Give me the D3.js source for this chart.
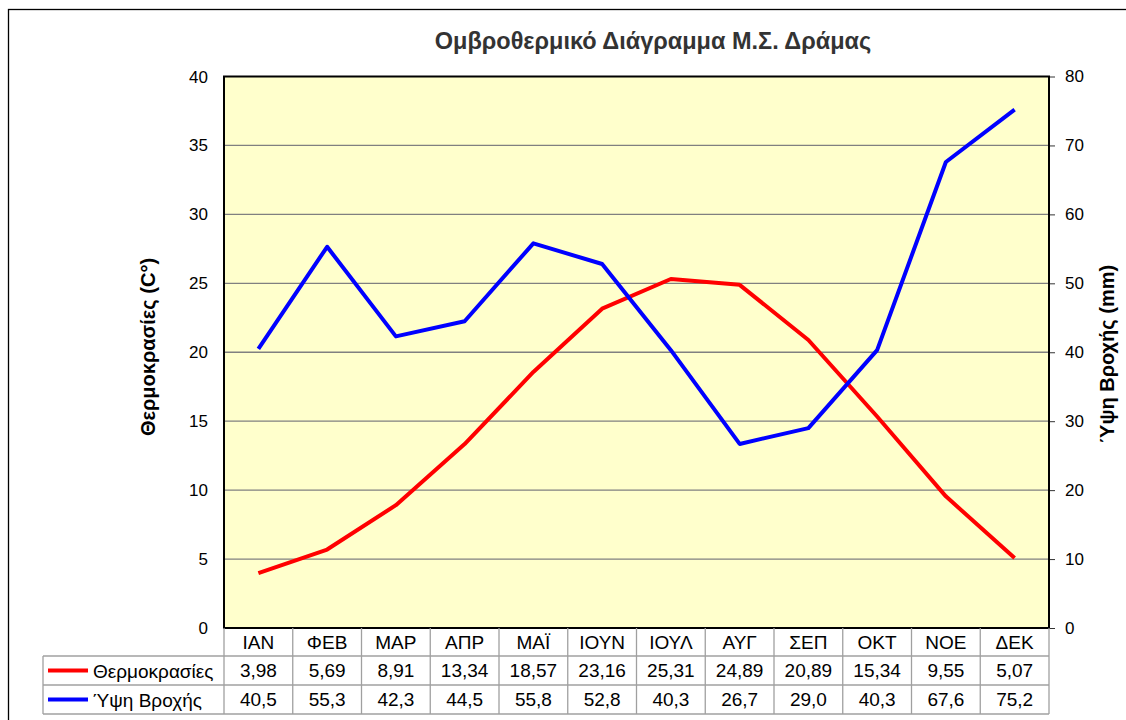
<!DOCTYPE html>
<html><head><meta charset="utf-8">
<script src="https://cdn.jsdelivr.net/npm/d3@7"></script>
<style>body{margin:0;background:#fff}svg{display:block;font-family:"Liberation Sans",Arial,sans-serif}</style>
</head><body><svg id="c" width="1126" height="720"></svg>
<script>
const months = ["ΙΑΝ","ΦΕΒ","ΜΑΡ","ΑΠΡ","ΜΑΪ","ΙΟΥΝ","ΙΟΥΛ","ΑΥΓ","ΣΕΠ","ΟΚΤ","ΝΟΕ","ΔΕΚ"];
const temperature = [3.98,5.69,8.91,13.34,18.57,23.16,25.31,24.89,20.89,15.34,9.55,5.07];
const rainfall = [40.5,55.3,42.3,44.5,55.8,52.8,40.3,26.7,29.0,40.3,67.6,75.2];
const tempTicks = [0,5,10,15,20,25,30,35,40];
const rainTicks = [0,10,20,30,40,50,60,70,80];
const seriesNames = ["Θερμοκρασίες","Ύψη Βροχής"];
const title = "Ομβροθερμικό Διάγραμμα Μ.Σ. Δράμας";

const svg = d3.select("#c");
const L=224, R=1049, T=76.5, B=628;
const x = d3.scaleBand().domain(months).range([L,R]);
const yL = d3.scaleLinear().domain([0,40]).range([B,T]);
const yR = d3.scaleLinear().domain([0,80]).range([B,T]);
const fmt2 = v => v.toFixed(2).replace(".",",");
const fmt1 = v => v.toFixed(1).replace(".",",");

// outer border
svg.append("rect").attr("x",8.5).attr("y",9.5).attr("width",1140).attr("height",730)
  .attr("fill","none").attr("stroke","#000").attr("stroke-width",1.3);

// plot bg
svg.append("rect").attr("x",L).attr("y",T).attr("width",R-L).attr("height",B-T).attr("fill","#FFFFCC");

// gridlines
svg.append("g").selectAll("line").data(tempTicks.slice(1,-1)).join("line")
  .attr("x1",L).attr("x2",R).attr("y1",d=>yL(d)).attr("y2",d=>yL(d))
  .attr("stroke","#808080").attr("stroke-width",1.3);

// left axis labels
svg.append("g").selectAll("text").data(tempTicks).join("text")
  .attr("x",208).attr("y",d=>yL(d)+6).attr("text-anchor","end")
  .attr("font-size",17).text(d=>d);

// right axis
const ra = svg.append("g").attr("transform",`translate(${R},0)`)
  .call(d3.axisRight(yR).tickValues(rainTicks).tickSize(6).tickPadding(10).tickFormat(d=>d));
ra.select(".domain").remove();
ra.selectAll("line").attr("stroke","#333");
ra.selectAll("text").attr("font-size",17).attr("font-family","Liberation Sans, Arial").attr("fill","#000");

// plot border
svg.append("rect").attr("x",L).attr("y",T).attr("width",R-L).attr("height",B-T)
  .attr("fill","none").attr("stroke","#000").attr("stroke-width",2);

// lines
const lineT = d3.line().x((d,i)=>x(months[i])+x.bandwidth()/2).y(d=>yL(d));
const lineR = d3.line().x((d,i)=>x(months[i])+x.bandwidth()/2).y(d=>yR(d));
svg.append("path").datum(temperature).attr("d",lineT).attr("fill","none").attr("stroke","#FF0000").attr("stroke-width",4).attr("stroke-linejoin","round");
svg.append("path").datum(rainfall).attr("d",lineR).attr("fill","none").attr("stroke","#0000FF").attr("stroke-width",4).attr("stroke-linejoin","round");

// title
svg.append("text").attr("x",653).attr("y",49).attr("text-anchor","middle")
  .attr("font-size",23.5).attr("font-weight","bold").attr("fill","#333").text(title);

// axis titles
svg.append("text").attr("transform","translate(155,347) rotate(-90)").attr("text-anchor","middle")
  .attr("font-size",20).attr("font-weight","bold").text("Θερμοκρασίες (C°)");
svg.append("text").attr("transform","translate(1114,354) rotate(-90)").attr("text-anchor","middle")
  .attr("font-size",20).attr("font-weight","bold").text("Ύψη Βροχής (mm)");

// data table
const rows = [B, 656, 685, 714];
const tg = svg.append("g").attr("stroke","#A0A0A0").attr("stroke-width",1.3);
tg.append("line").attr("x1",43).attr("x2",R).attr("y1",rows[1]).attr("y2",rows[1]);
tg.append("line").attr("x1",43).attr("x2",R).attr("y1",rows[2]).attr("y2",rows[2]);
tg.append("line").attr("x1",43).attr("x2",R).attr("y1",rows[3]).attr("y2",rows[3]);
const vx = months.map(m=>x(m)).concat([R]);
tg.selectAll(".v").data(vx).join("line").attr("x1",d=>d).attr("x2",d=>d).attr("y1",B).attr("y2",rows[3]);
tg.append("line").attr("x1",43).attr("x2",43).attr("y1",rows[1]).attr("y2",rows[3]);

const cx = m => x(m)+x.bandwidth()/2;
svg.append("g").selectAll("text").data(months).join("text")
  .attr("x",d=>cx(d)).attr("y",649).attr("text-anchor","middle").attr("font-size",19).text(d=>d);
svg.append("g").selectAll("text").data(temperature).join("text")
  .attr("x",(d,i)=>cx(months[i])).attr("y",677).attr("text-anchor","middle").attr("font-size",19).text(fmt2);
svg.append("g").selectAll("text").data(rainfall).join("text")
  .attr("x",(d,i)=>cx(months[i])).attr("y",706).attr("text-anchor","middle").attr("font-size",19).text(fmt1);

// legend keys
const keyColors = ["#FF0000","#0000FF"];
seriesNames.forEach((n,i)=>{
  const yc = (rows[i+1]+rows[i+2])/2;
  svg.append("line").attr("x1",48).attr("x2",88).attr("y1",yc).attr("y2",yc).attr("stroke",keyColors[i]).attr("stroke-width",4);
  svg.append("text").attr("x",93).attr("y",yc+7).attr("font-size",19).text(n);
});
</script></body></html>
